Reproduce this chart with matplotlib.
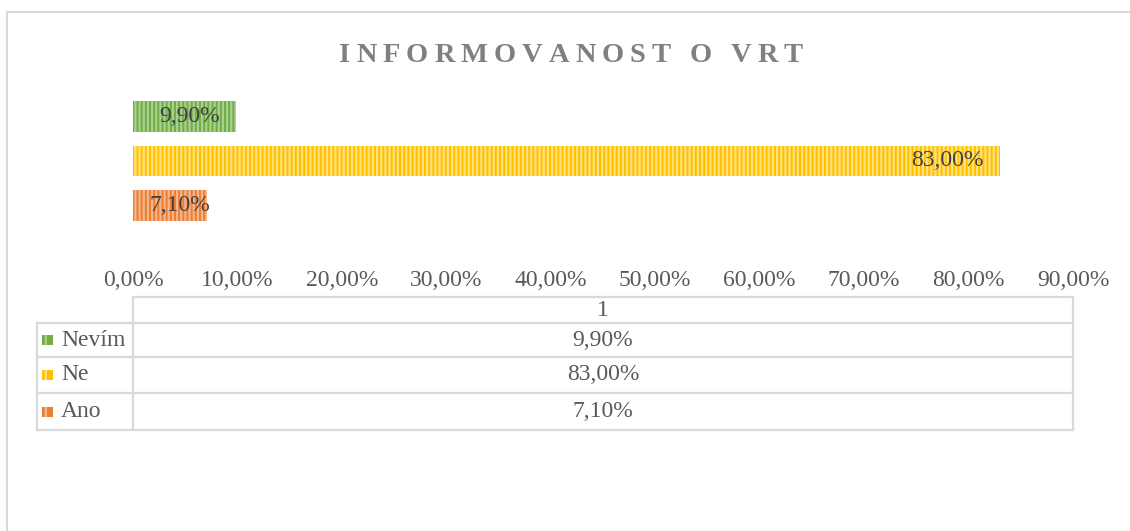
import numpy as np
import matplotlib.pyplot as plt
from matplotlib.patches import Rectangle

plt.rcParams['font.family'] = ['Liberation Serif', 'DejaVu Serif']
plt.rcParams['hatch.linewidth'] = 1.6

# data
categories = ['Ano', 'Ne', 'Nevím']
values = [0.071, 0.830, 0.099]
colors = ['#ED7D31', '#FFC000', '#70AD47']
stripe_colors = ['#F6B58A', '#FFE27A', '#A9D18E']
table_header = '1'
title = 'INFORMOVANOST O VRT'
ticks = np.arange(0, 0.91, 0.1)

W, H = 1130, 531
fig = plt.figure(figsize=(W / 100, H / 100), dpi=100)


def fx(px):
    return px / W


def fy(py):
    return 1 - py / H


# chart border (cropped at right and bottom)
fig.add_artist(plt.Line2D([fx(7), fx(7)], [fy(12), 0], color='#D9D9D9', lw=1.5))
fig.add_artist(plt.Line2D([fx(7), 1], [fy(12), fy(12)], color='#D9D9D9', lw=1.5))

# title with spaced letters
txt_color = '#808080'
renderer = fig.canvas.get_renderer()
spacing = 6
pieces = []
total = 0
for ch in title:
    t = fig.text(0, 0, ch, fontsize=20.5, fontweight='bold', color=txt_color,
                 va='baseline', ha='left')
    w = t.get_window_extent(renderer).width if ch != ' ' else 7
    pieces.append((t, w))
    total += w + spacing
total -= spacing
x0 = 571 - total / 2
for t, w in pieces:
    t.set_position((fx(x0), fy(61.5)))
    x0 += w + spacing

# bars
ax = fig.add_axes([fx(133), fy(232), fx(1073) - fx(133), (232 - 90) / H])
ypos = np.arange(len(categories))
bars = ax.barh(ypos, values, height=0.7, color=colors, edgecolor=stripe_colors,
               hatch='||||', linewidth=0)
ax.set_xlim(0, 0.9)
ax.set_ylim(-0.61, 2.61)
ax.set_xticks(ticks)
ax.set_xticklabels([f'{v * 100:.2f}%'.replace('.', ',') for v in ticks])
ax.tick_params(axis='x', length=0, pad=27, labelsize=17, labelcolor='#595959')
ax.set_yticks([])
for s in ax.spines.values():
    s.set_visible(False)

for y, v in zip(ypos, values):
    lab = f'{v * 100:.2f}%'.replace('.', ',')
    # inside end label, falls back to the bar start when the bar is short
    if v > 0.09:
        ax.annotate(lab, (v, y), xytext=(-12, 0), textcoords='offset points',
                    ha='right', va='center', fontsize=17, color='#404040')
    else:
        ax.annotate(lab, (0, y), xytext=(12, 0), textcoords='offset points',
                    ha='left', va='center', fontsize=17, color='#404040')

# data table under the axis
tab = fig.add_axes([0, 0, 1, 1], zorder=-1)
tab.set_xlim(0, W)
tab.set_ylim(H, 0)
tab.axis('off')
lc = '#D9D9D9'
lw = 1.6
left, mid, right = 37, 133, 1073
rows = [297, 323, 357, 393, 430]
tab.plot([mid, right], [rows[0], rows[0]], color=lc, lw=lw)
for r in rows[1:]:
    tab.plot([left, right], [r, r], color=lc, lw=lw)
tab.plot([mid, mid], [rows[0], rows[-1]], color=lc, lw=lw)
tab.plot([right, right], [rows[0], rows[-1]], color=lc, lw=lw)
tab.plot([left, left], [rows[1], rows[-1]], color=lc, lw=lw)
tab.text((mid + right) / 2, (rows[0] + rows[1]) / 2, table_header,
         ha='center', va='center', fontsize=17, color='#595959')

order = [2, 1, 0]
for i, k in enumerate(order):
    yc = (rows[i + 1] + rows[i + 2]) / 2
    tab.add_patch(Rectangle((42, yc - 5), 11, 10, facecolor=colors[k],
                            edgecolor=stripe_colors[k], hatch='||', lw=0))
    tab.text(61, yc, categories[k], ha='left', va='center', fontsize=17,
             color='#595959')
    tab.text((mid + right) / 2, yc, f'{values[k] * 100:.2f}%'.replace('.', ','),
             ha='center', va='center', fontsize=17, color='#595959')

fig.savefig('out.png', dpi=100)
